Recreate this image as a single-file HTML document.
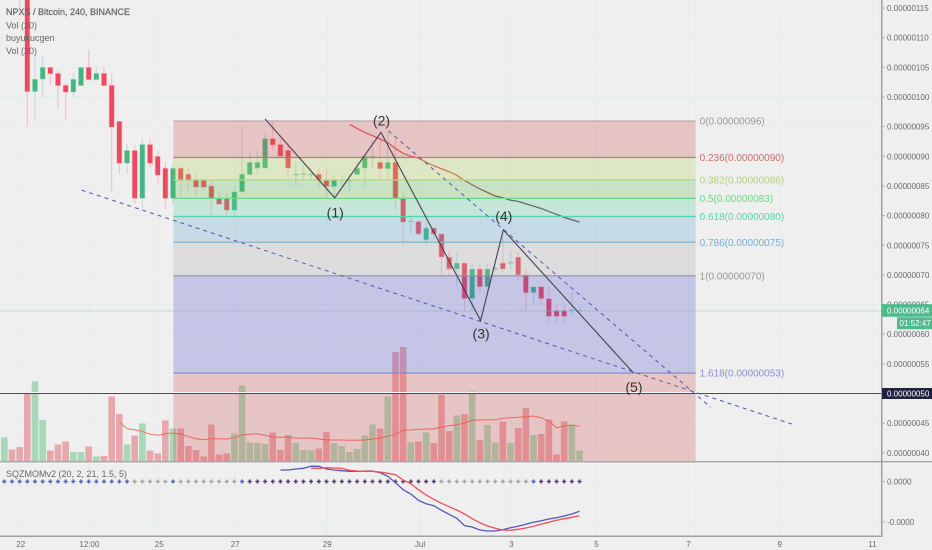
<!DOCTYPE html>
<html lang="en">
<head>
<meta charset="utf-8">
<title>NPXS / Bitcoin chart</title>
<style>
html,body{margin:0;padding:0;background:#efefef;}
body{width:932px;height:550px;overflow:hidden;}
svg{display:block;font-family:"Liberation Sans",sans-serif;}
</style>
</head>
<body>
<svg id="chart" width="932" height="550" viewBox="0 0 932 550" xmlns="http://www.w3.org/2000/svg">
  <defs>
    <linearGradient id="avgStroke" gradientUnits="userSpaceOnUse" x1="455" y1="0" x2="495" y2="0">
      <stop offset="0" stop-color="#e05a5a"/>
      <stop offset="1" stop-color="#6e5058"/>
    </linearGradient>
  </defs>
  <rect x="0" y="0" width="932" height="550" fill="#efefef"/>
  <g id="grid"></g>
  <g id="volume"></g>
  <g id="candles"></g>
  <g id="averages"></g>
  <g id="fib"></g>
  <g id="drawings"></g>
  <g id="momentum"></g>
  <g id="axes"></g>
  <g font-size="9" fill="#666">
    <text x="6" y="15" stroke="#666" stroke-width="0.25">NPXS / Bitcoin, 240, BINANCE</text>
    <text x="6" y="28.5">Vol (20)</text>
    <text x="6" y="41">buyukucgen</text>
    <text x="6" y="54">Vol (20)</text>
    <text x="6" y="477">SQZMOMv2 (20, 2, 21, 1.5, 5)</text>
  </g>
</svg>
<script>
const opens=[125,130,127,122,100.9,103,105,104,102,100.8,101.9,105,102.9,104,102,95.9,88.8,91,82.9,92,90,88,82.9,88,87,86,86,85,82.9,82.9,80.9,84,86.9,88,88,93,92,91,86.8,87,87,87,86,84.9,86,85.8,86.9,88,90,89,87.9,89,83,79,79,75.9,77.9,76.9,73,71,72,66,71,68,71,72,72,73,70,67,68,66,64,64,64,64];
const closes=[130,127,122,100.9,103,105,103.9,101.9,100.8,103,105,102.9,104,101.9,94.9,88.8,91,82.9,92,88.8,86.8,82.9,88,85.9,85.9,84.8,84.8,82.9,81.9,80.9,84,87,89,89,93,91.9,90,88,87,87.1,87,86,84.9,86,86.1,86,88,90,90,87.9,89,82.9,78.9,79.1,76.9,77.9,76.9,73,71,72,66,71,68,71,71.1,71,72.1,70,67,68,66,63,63,63,64.1,64];
const highs=[132,132,128,124,107.3,106.9,105.2,104.5,102.3,104,105,107.9,105,105,104,96,92,92,93,93,91,89,89,88.2,88,87,86,86,84,84,85,95,91,91,94,96,93,92,88.8,88.5,88,88,87.8,87,87,87.2,89,90,92.7,93.3,94,93,84,80,79.2,79,78,77,74,73.9,72,72,72,72,71.5,77,74,74,71,68,68,68,65,65,67,65];
const lows=[124,126,115,95,96,100,102,98,96,100,101.9,102.9,102.9,101.9,84,87,87,82,81.2,88,85.5,81,82,83.2,84.2,83.2,84.2,80,81.9,80,80,84,86.9,87,88,91,90,86.3,85,86,86,84.7,83,83,85,84,86.9,85,88,86,86,81,75,77,76.5,75,75.9,70,70,68,64,64,67,67,70.6,70.5,71,69,64,65,65,62,62,62,63,64];
const volumes=[24,12,14.5,69,80,41.5,11,17,20,9.5,9.5,15,5,5.5,65,47.5,17,26,38,11,8,41,33,33,15.5,11.5,5,37,7,8,28,76,19,18.5,17.5,29,11.5,26.5,18.5,11.5,11,13,29.5,18.5,15.5,9.5,12.5,26,37,33,65,109.5,114.5,19,20,29,18.5,66.5,30.5,46,47.5,70,21.5,36.5,19,40,18.5,33.5,53.5,26.5,27.5,42,7,40,37,11];
const volumeUp=[1,0,0,0,1,1,0,0,0,1,1,0,1,0,0,0,1,0,1,0,0,0,1,0,0,0,0,0,0,0,1,1,1,1,1,0,0,0,1,1,1,0,0,1,1,1,1,1,1,0,1,0,0,1,0,1,0,0,0,1,0,1,0,1,1,0,1,0,0,1,0,0,0,0,1,1];
const volumeAverageStart=15;
const volumeAverage=[39.2,32.8,31.8,30.2,27.2,26.2,27.8,28.5,27.5,24.8,22.8,21.8,22.8,22.8,22.5,23.8,26.5,27.2,27.8,26.2,24.5,24.2,24.2,23.5,23.2,23.5,22.5,21.5,21.5,21.5,21.2,21.2,21.5,22.5,23.5,25.2,27.2,31.2,31.5,32.2,32.5,32.5,34.5,35.8,36.8,38.5,41.2,41.5,41.8,41.8,43.2,43.8,44.2,44.8,45.5,43.8,40.5,33.8,35.5,36.2,35.2];
const priceAverageStart=45;
const priceAverage=[95.4,94.7,94,93.5,92.9,92.3,91.3,90.5,90,89.7,89,88.4,87.9,87.4,86.8,85.9,85.2,84.5,83.9,83.3,83,82.6,82.4,82,81.6,81.2,80.7,80.2,79.7,79.3,78.9];
const momentumBlueStart=36;
const momentumBlue=[11.5,11.5,12.5,13.2,15.2,15.2,12.5,11.5,10.8,10.2,10.2,10.5,10.5,8.8,5.2,-1.2,-8.2,-12.5,-18.8,-22.2,-24.2,-28.8,-32.8,-36.8,-44.2,-45.5,-48.5,-49.5,-49.5,-48.2,-46.2,-44.8,-42.8,-40.8,-39.2,-37.5,-36.2,-34.5,-32.5,-29.8];
const momentumRedStart=40;
const momentumRed=[13.2,13.2,13.8,13.5,13.2,11.2,10.5,10.2,10.2,9.5,8.2,6.8,1.5,-2.2,-8.2,-13.5,-17.8,-21.8,-25.2,-28.5,-32.5,-37.2,-41.2,-44.5,-46.8,-48.5,-48.8,-47.8,-46.5,-44.8,-42.8,-40.8,-38.8,-37.2,-35.8,-34.2];
const squeezeStates=[1,1,1,1,1,1,1,1,1,1,1,1,1,1,1,1,1,0,0,0,0,0,1,0,0,0,0,0,0,0,0,1,2,2,2,2,2,2,2,2,2,2,2,2,2,2,2,2,2,2,2,2,2,2,2,2,2,0,0,0,0,0,0,0,0,0,0,0,0,1,2,2,2,2,2,2];
const priceTicks=[40,45,50,55,60,65,70,75,80,85,90,95,100,105,110,115];
const priceTickLabels=["0.00000040","0.00000045","0.00000050","0.00000055","0.00000060","0.00000065","0.00000070","0.00000075","0.00000080","0.00000085","0.00000090","0.00000095","0.00000100","0.00000105","0.00000110","0.00000115"];
const timeTicks=[2.14,11.1,20.2,30.1,42.1,54.2,66.1,77.2,89.2,101.1,113.2];
const timeTickLabels=["22","12:00","25","27","29","Jul","3","5","7","9","11"];
const momentumTicks=[0,-40.5];
const momentumTickLabels=["0.0000","-0.0000"];
const fibPrices=[95.95,89.8,86,82.9,79.85,75.5,69.85,53.45];
const fibLabels=["0(0.00000096)","0.236(0.00000090)","0.382(0.00000086)","0.5(0.00000083)","0.618(0.00000080)","0.786(0.00000075)","1(0.00000070)","1.618(0.00000053)"];
const fibBars=[22.05,90.14];
const waveBars=[34,43.08,49.11,62.1,65.06,82];
const wavePrices=[96.3,83,94.05,62.3,77.6,53.5];
const waveLabels=["","(1)","(2)","(3)","(4)","(5)"];
const trendLowerBars=[10.09,102.66];
const trendLowerPrices=[84.3,44.86];
const trendUpperBars=[50.07,92.1];
const trendUpperPrices=[94.3,47.67];
const lastPrice=64;
const markedPrice=50;

const NS="http://www.w3.org/2000/svg";
const X=function(bar){return 4.3+7.67*bar;};
const Y=function(price){return 393.5-(price-50)*5.93;};
const VY=function(v){return 461.5-v;};
const MY=function(m){return 481.5-m;};
const fmt=function(n){return n.toFixed(2);};
function make(tag,parent,props){
  const el=document.createElementNS(NS,tag);
  for(const k in props){el.setAttribute(k,props[k]);}
  parent.appendChild(el);
  return el;
}
function polyPoints(values,start,yFn){
  return values.map(function(v,i){return fmt(X(start+i))+","+fmt(yFn(v));}).join(" ");
}
const gridG=document.getElementById('grid');
const volG=document.getElementById('volume');
const candleG=document.getElementById('candles');
const avgG=document.getElementById('averages');
const fibG=document.getElementById('fib');
const drawG=document.getElementById('drawings');
const momG=document.getElementById('momentum');
const axisG=document.getElementById('axes');

/* grid */
priceTicks.forEach(function(p){
  const el=make('line',gridG,{x1:0,x2:881,y1:fmt(Y(p)),y2:fmt(Y(p)),stroke:'#e6ebee','stroke-width':1});
  
  
});
timeTicks.forEach(function(b){
  const el=make('line',gridG,{x1:fmt(X(b)),x2:fmt(X(b)),y1:0,y2:536,stroke:'#e6ebee','stroke-width':1});
  
  
});
momentumTicks.forEach(function(m){
  const el=make('line',gridG,{x1:0,x2:881,y1:fmt(MY(m)),y2:fmt(MY(m)),stroke:'#e6ebee','stroke-width':1});
  
  
});

/* volume */
volumes.forEach(function(v,i){
  const el=make('rect',volG,{x:fmt(X(i)-3.3),y:fmt(VY(v)),width:6.6,height:fmt(v),fill:volumeUp[i]?'#a8d8b8':'#e6a8ac'});
  
  
});
const volAvgLine=make('polyline',volG,{points:polyPoints(volumeAverage,volumeAverageStart,VY),fill:'none',stroke:'#f07060','stroke-width':1});



/* candles */
opens.forEach(function(o,i){
  const c=closes[i];
  const up=c>=o;
  const wick=make('line',candleG,{x1:fmt(X(i)),x2:fmt(X(i)),y1:fmt(Y(highs[i])),y2:fmt(Y(lows[i])),stroke:up?'#c0dcdc':'#f3c4ca','stroke-width':1.2});
  
  
  const top=Y(Math.max(o,c));
  const h=Math.max(Math.abs(o-c)*5.93,1);
  const body=make('rect',candleG,{x:fmt(X(i)-2.6),y:fmt(top),width:5.2,height:fmt(h),fill:up?'#45b583':'#ec4a5e',stroke:up?'#b6e2cc':'#f6b8c0','stroke-width':0.6});
  
  
});

/* price moving average */
const priceAvgLine=make('polyline',avgG,{points:polyPoints(priceAverage,priceAverageStart,Y),fill:'none',stroke:'url(#avgStroke)','stroke-width':1.3});



/* current price dotted line (under the bands) */
const lastLine=make('line',avgG,{x1:0,x2:881,y1:fmt(Y(lastPrice)+0.5),y2:fmt(Y(lastPrice)+0.5),stroke:'#8fd6b0','stroke-width':1,'stroke-dasharray':'1 1'});



/* fibonacci */
const fibFills=['rgba(208,72,72,.25)','rgba(172,208,72,.25)','rgba(84,188,68,.25)','rgba(76,204,156,.25)','rgba(72,160,204,.25)','rgba(168,168,168,.25)','rgba(72,76,204,.25)','rgba(208,72,72,.25)'];
const fibLineColors=['#bcaaaa','#cc7474','#b0d888','#6cd880','#56d6a4','#82b4cc','#8f8f9f','#8484c8'];
const fibTextColors=['#999999','#d46a6a','#b0d27c','#6cd880','#56d6a4','#78b0cc','#999999','#8a8fd0'];
const fx0=X(fibBars[0]);
const fx1=X(fibBars[1]);
fibPrices.forEach(function(p,i){
  const top=Y(p);
  const bottom=i<fibPrices.length-1?Y(fibPrices[i+1]):461.5;
  const band=make('rect',fibG,{x:fmt(fx0),y:fmt(top),width:fmt(fx1-fx0),height:fmt(bottom-top),fill:fibFills[i]});
  
  
});
fibPrices.forEach(function(p,i){
  const ln=make('line',fibG,{x1:fmt(fx0),x2:fmt(fx1),y1:fmt(Y(p)),y2:fmt(Y(p)),stroke:fibLineColors[i],'stroke-width':1.2});
  
  
  const t=make('text',fibG,{x:fmt(fx1+4),y:fmt(Y(p)+3.5),'font-size':10,fill:fibTextColors[i]});
  t.textContent=fibLabels[i];
  
  
});

/* marked horizontal line */
const hHalo=make('line',drawG,{x1:0,x2:881,y1:fmt(Y(markedPrice)-1),y2:fmt(Y(markedPrice)-1),stroke:'#f8f8f8','stroke-width':1});


const hLine=make('line',drawG,{x1:0,x2:881,y1:fmt(Y(markedPrice)),y2:fmt(Y(markedPrice)),stroke:'#4e4658','stroke-width':1});



/* trend lines */
const lowerTrend=make('line',drawG,{x1:fmt(X(trendLowerBars[0])),y1:fmt(Y(trendLowerPrices[0])),x2:fmt(X(trendLowerBars[1])),y2:fmt(Y(trendLowerPrices[1])),stroke:'#5656ae','stroke-width':1,'stroke-dasharray':'4 4'});


const upperTrend=make('line',drawG,{x1:fmt(X(trendUpperBars[0])),y1:fmt(Y(trendUpperPrices[0])),x2:fmt(X(trendUpperBars[1])),y2:fmt(Y(trendUpperPrices[1])),stroke:'#5656ae','stroke-width':1,'stroke-dasharray':'4 4'});



/* elliott wave */
const wave=make('polyline',drawG,{points:waveBars.map(function(b,i){return fmt(X(b))+","+fmt(Y(wavePrices[i]));}).join(" "),fill:'none',stroke:'#4a3e52','stroke-width':1.1});


const labelDy=[0,19.5,-7,18,-9,19];
waveLabels.forEach(function(txt,i){
  if(!txt){return;}
  const t=make('text',drawG,{x:fmt(X(waveBars[i])+(i===5?0.7:0.5)),y:fmt(Y(wavePrices[i])+labelDy[i]),'font-size':14,fill:'#333','text-anchor':'middle'});
  t.textContent=txt;
  
  
});

/* squeeze momentum */
const squeezeColors=['#a6a6a6','#5a62b8','#55406e'];
squeezeStates.forEach(function(s,i){
  const x=X(i);
  const y=MY(0);
  const d=make('path',momG,{d:'M'+fmt(x-2)+' '+fmt(y)+'H'+fmt(x+2)+'M'+fmt(x)+' '+fmt(y-2)+'V'+fmt(y+2),stroke:squeezeColors[s],'stroke-width':1.6,fill:'none'});
  
  
});
const blue=make('polyline',momG,{points:polyPoints(momentumBlue,momentumBlueStart,MY),fill:'none',stroke:'#5458b4','stroke-width':1.3});


const red=make('polyline',momG,{points:polyPoints(momentumRed,momentumRedStart,MY),fill:'none',stroke:'#f05058','stroke-width':1.3});



/* axes */
const paneLine=make('rect',axisG,{x:0,y:461,width:932,height:1.6,fill:'#a8a8a8'});


const paneGlow=make('rect',axisG,{x:0,y:462.6,width:932,height:1,fill:'#f8f8f8'});


const bottomLine=make('rect',axisG,{x:0,y:535.5,width:882.5,height:1.5,fill:'#a0a0a0'});


const rightLine=make('rect',axisG,{x:881,y:0,width:1.5,height:537,fill:'#a0a0a0'});


priceTicks.forEach(function(p,i){
  const tk=make('line',axisG,{x1:882,x2:885,y1:fmt(Y(p)),y2:fmt(Y(p)),stroke:'#b0b0b0','stroke-width':1});
  
  
  const t=make('text',axisG,{x:887,y:fmt(Y(p)+3),'font-size':8,fill:'#6a6a6a'});
  t.textContent=priceTickLabels[i];
  
  
});
momentumTicks.forEach(function(m,i){
  const tk=make('line',axisG,{x1:882,x2:885,y1:fmt(MY(m)),y2:fmt(MY(m)),stroke:'#b0b0b0','stroke-width':1});
  
  
  const t=make('text',axisG,{x:887,y:fmt(MY(m)+3),'font-size':8,fill:'#6a6a6a'});
  t.textContent=momentumTickLabels[i];
  
  
});
timeTicks.forEach(function(b,i){
  const t=make('text',axisG,{x:fmt(X(b)),y:547,'font-size':8,fill:'#6a6a6a','text-anchor':'middle'});
  t.textContent=timeTickLabels[i];
  
  
});

/* price tags */
const lastTag=make('rect',axisG,{x:882,y:fmt(Y(lastPrice)-6.3),width:50,height:12.6,fill:'#4fba8c'});


const lastText=make('text',axisG,{x:887,y:fmt(Y(lastPrice)+3.2),'font-size':8,fill:'#fff'});
lastText.textContent="0.00000064";


const timerTag=make('rect',axisG,{x:897,y:fmt(Y(lastPrice)+6.8),width:35,height:12,fill:'#4fba8c'});


const timerText=make('text',axisG,{x:899.5,y:fmt(Y(lastPrice)+15.7),'font-size':8,fill:'#fff'});
timerText.textContent="01:52:47";


const markTag=make('rect',axisG,{x:882,y:fmt(Y(markedPrice)-5.5),width:50,height:11,fill:'#1f2140'});


const markText=make('text',axisG,{x:887,y:fmt(Y(markedPrice)+3),'font-size':8,fill:'#fff'});
markText.textContent="0.00000050";


</script>
</body>
</html>
